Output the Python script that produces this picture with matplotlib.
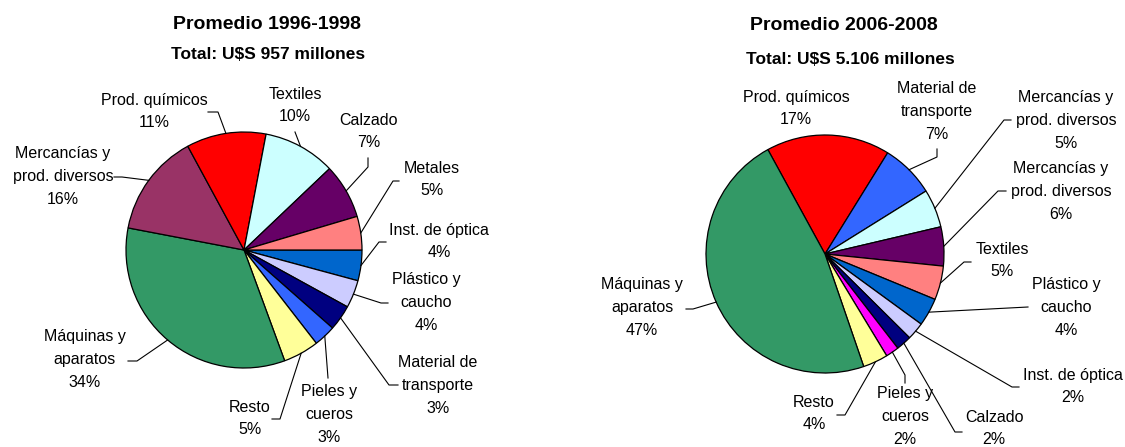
import numpy as np
import matplotlib.pyplot as plt

W, H = 1125, 447
plt.rcParams['font.family'] = ['Liberation Sans', 'DejaVu Sans']

# ---- Promedio 1996-1998 (slices clockwise from 3 o'clock)
left_cats = ['Inst. de óptica', 'Plástico y\ncaucho', 'Material de\ntransporte',
             'Pieles y\ncueros', 'Resto', 'Máquinas y\naparatos',
             'Mercancías y\nprod. diversos', 'Prod. químicos', 'Textiles',
             'Calzado', 'Metales']
left_shares = [4.2, 3.8, 3.5, 3.0, 4.9, 33.6, 14.1, 10.9, 9.9, 7.5, 4.6]
left_pct = ['4%', '4%', '3%', '3%', '5%', '34%', '16%', '11%', '10%', '7%', '5%']
left_colors = ['#0066CC', '#CCCCFF', '#000080', '#3366FF', '#FFFF99', '#339966',
               '#993366', '#FF0000', '#CCFFFF', '#660066', '#FF8080']

# ---- Promedio 2006-2008 (slices clockwise from Prod. químicos)
right_cats = ['Prod. químicos', 'Material de\ntransporte', 'Mercancías y\nprod. diversos',
              'Mercancías y\nprod. diversos', 'Textiles', 'Plástico y\ncaucho',
              'Inst. de óptica', 'Calzado', 'Pieles y\ncueros', 'Resto',
              'Máquinas y\naparatos']
right_shares = [16.8, 7.3, 5.2, 5.3, 4.6, 3.8, 2.4, 2.1, 1.8, 3.4, 47.3]
right_pct = ['17%', '7%', '5%', '6%', '5%', '4%', '2%', '2%', '2%', '4%', '47%']
right_colors = ['#FF0000', '#3366FF', '#CCFFFF', '#660066', '#FF8080', '#0066CC',
                '#CCCCFF', '#000080', '#FF00FF', '#FFFF99', '#339966']

# label layout in image pixels: (x, y of text block centre, leader tail points)
left_layout = [
    (439, 241, [(386, 242), (379, 242)]),
    (426, 302, [(388, 303), (381, 303)]),
    (438, 385, [(398, 385), (389, 385)]),
    (329, 414, [(328, 378)]),
    (250, 418, [(272, 419), (280, 419)]),
    (85, 359, [(128, 361), (137, 361)]),
    (63, 176, [(114, 177), (122, 177)]),
    (154, 111, [(208, 112), (218, 112)]),
    (295, 105, [(295, 132)]),
    (369, 131, [(368, 158), (368, 167)]),
    (432, 179, [(399, 181), (393, 181)]),
]
right_layout = [
    (796, 108, []),
    (937, 111, [(937, 149), (937, 157)]),
    (1066, 120, [(1011, 120), (1004, 120)]),
    (1061, 191, [(1006, 191), (998, 191)]),
    (1002, 260, [(971, 262), (964, 262)]),
    (1066, 307, [(1028, 307)]),
    (1073, 386, [(1019, 387), (1012, 387)]),
    (994, 428, [(962, 432), (955, 432)]),
    (905, 416, [(905, 383), (905, 375)]),
    (814, 413, [(837, 415), (845, 415)]),
    (642, 307, [(686, 309), (693, 309)]),
]

LINE = 22.8
FS = 11.5


def draw_pie(ax, shares, cats, pcts, colors, center, radius, start, layout):
    cx, cy = center[0], H - center[1]
    wedges, _ = ax.pie(shares, colors=colors, startangle=start, counterclock=False,
                       center=(cx, cy), radius=radius,
                       wedgeprops=dict(edgecolor='black', linewidth=0.9))
    for w, cat, pct, (lx, ly, tail) in zip(wedges, cats, pcts, layout):
        lines = cat.split('\n') + [pct]
        n = len(lines)
        for i, line in enumerate(lines):
            yc = ly + (i - (n - 1) / 2) * LINE
            ax.text(lx, H - yc - 5, line, ha='center', va='baseline',
                    fontsize=FS, color='black')
        if tail:
            mid = np.deg2rad((w.theta1 + w.theta2) / 2)
            xs = [p[0] for p in tail] + [cx + radius * np.cos(mid)]
            ys = [H - p[1] for p in tail] + [cy + radius * np.sin(mid)]
            ax.plot(xs, ys, color='black', lw=0.8)


fig = plt.figure(figsize=(W / 100, H / 100), dpi=100)
ax = fig.add_axes([0, 0, 1, 1])

draw_pie(ax, left_shares, left_cats, left_pct, left_colors, (244, 250), 118, 0, left_layout)
draw_pie(ax, right_shares, right_cats, right_pct, right_colors, (825, 254), 119, 118.7, right_layout)

ax.text(267, H - 29, 'Promedio 1996-1998', ha='center', va='baseline',
        fontsize=14, fontweight='bold')
ax.text(268, H - 59, 'Total: U$S 957 millones', ha='center', va='baseline',
        fontsize=12.5, fontweight='bold')
ax.text(844, H - 30, 'Promedio 2006-2008', ha='center', va='baseline',
        fontsize=14, fontweight='bold')
ax.text(850, H - 64, 'Total: U$S 5.106 millones', ha='center', va='baseline',
        fontsize=12.5, fontweight='bold')

ax.set_xlim(0, W)
ax.set_ylim(0, H)
ax.axis('off')

fig.savefig('out.png', dpi=100)
